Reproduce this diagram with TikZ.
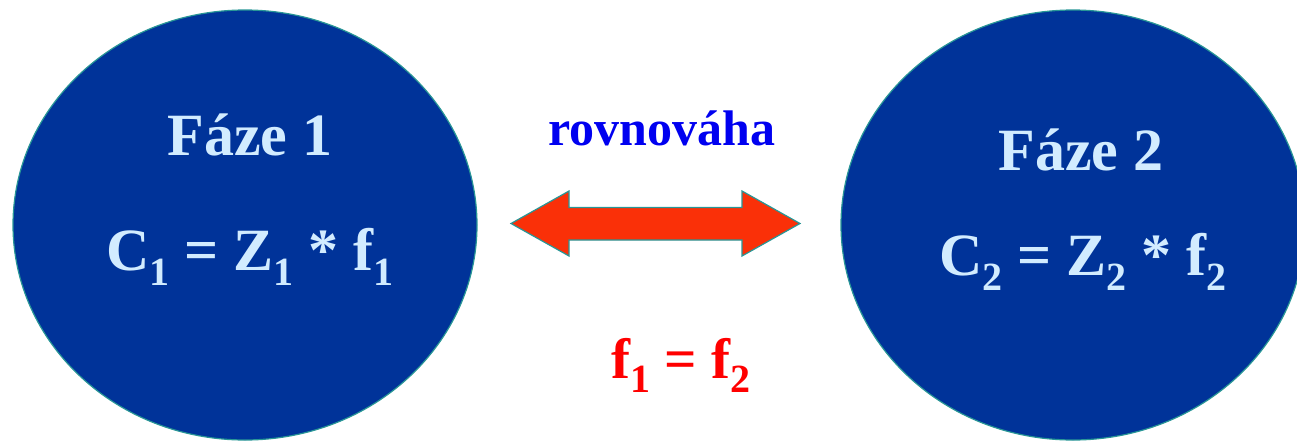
\documentclass[tikz,border=0pt]{standalone}
\usepackage{fontspec}
\setmainfont{Liberation Serif}
\definecolor{phasefill}{RGB}{0,51,153}
\definecolor{phaseedge}{RGB}{40,150,150}
\definecolor{phasetext}{RGB}{210,236,255}
\definecolor{arrowfill}{RGB}{250,48,8}
\definecolor{labelblue}{RGB}{0,0,240}
\definecolor{labelred}{RGB}{255,0,0}
\newcommand\lowidx[2]{\raisebox{-#2pt}{\fontsize{40}{40}\selectfont #1}}
\usetikzlibrary{shapes.geometric}
\tikzset{
  phase/.style={ellipse, draw=phaseedge, line width=1.2pt, fill=phasefill, minimum width=464pt, minimum height=430pt, inner sep=0pt},
  phaselabel/.style={text=phasetext, font=\bfseries\fontsize{60}{60}\selectfont, inner sep=0pt, anchor=base},
  bigarrow/.style={draw=phaseedge, line width=1.2pt, fill=arrowfill, line join=miter},
}
\begin{document}
\begin{tikzpicture}[x=1pt,y=-1pt]
\useasboundingbox (0,0) rectangle (1297,442);
\begin{scope}
\clip (0,0) rectangle (1297,442);
\node[phase] (p1) at (245,225) {};
\node[phase] (p2) at (1073,225) {};
\end{scope}
\node[phaselabel] (t1) at (250,155) {Fáze 1};
\node[phaselabel] (e1) at (250,270) {C\lowidx{1}{15} = Z\lowidx{1}{15} * f\lowidx{1}{15}};
\node[phaselabel] (t2) at (1081,170) {Fáze 2};
\node[phaselabel] (e2) at (1083,275) {C\lowidx{2}{15} = Z\lowidx{2}{15} * f\lowidx{2}{15}};
\coordinate (al) at (511,223.5);
\coordinate (ar) at (800,223.5);
\draw[bigarrow] (al) -- (569,191) -- (569,207.5) -- (742,207.5) -- (742,191) -- (ar)
  -- (742,256) -- (742,240) -- (569,240) -- (569,256) -- cycle;
\node[text=labelblue, font=\bfseries\fontsize{50}{50}\selectfont, anchor=base, inner sep=0pt] (rv) at (662,145) {rovnováha};
\node[text=labelred, font=\bfseries\fontsize{57}{57}\selectfont, anchor=base, inner sep=0pt] (ff) at (681,378) {f\lowidx{1}{14} = f\lowidx{2}{14}};
\end{tikzpicture}
\end{document}
